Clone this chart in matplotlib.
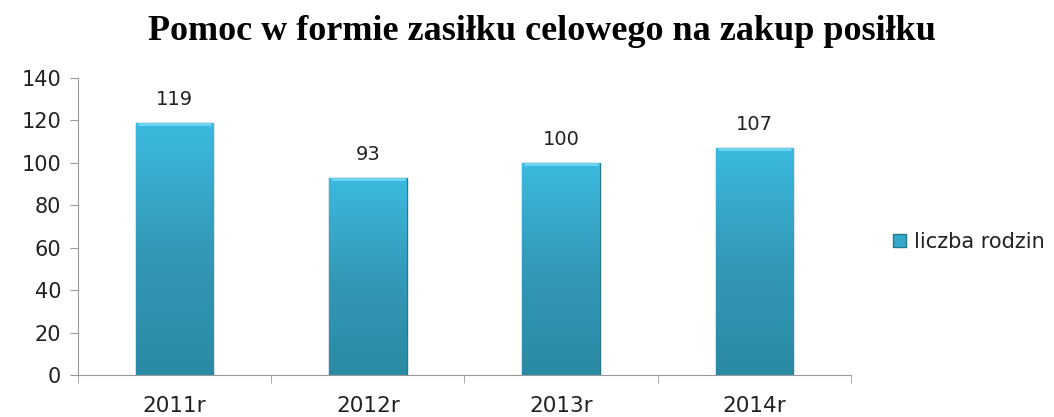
import matplotlib.pyplot as plt
import numpy as np
from matplotlib.colors import LinearSegmentedColormap
from matplotlib.patches import Patch

# dane
years = ['2011r', '2012r', '2013r', '2014r']
rodziny = [119, 93, 100, 107]

title = 'Pomoc w formie zasiłku celowego na zakup posiłku'

fig = plt.figure(figsize=(10.54, 4.17), dpi=100)
ax = fig.add_axes([0.074, 0.1007, 0.7334, 0.7123])

x = np.arange(len(years))
bars = ax.bar(x, rodziny, width=0.4, color='#35A9CB', edgecolor='#26768D', linewidth=1.0, zorder=2)

# gradient w słupkach
cmap = LinearSegmentedColormap.from_list('g', ['#2B8AA3', '#3399B8', '#3CBAE0'])
grad = np.linspace(0, 1, 256).reshape(-1, 1)
for b in bars:
    im = ax.imshow(grad, cmap=cmap, origin='lower', aspect='auto', zorder=3,
                   extent=[b.get_x(), b.get_x() + b.get_width(), 0, b.get_height()])
    im.set_clip_path(b)
    # jasna krawędź u góry
    ax.plot([b.get_x() + 0.01, b.get_x() + b.get_width() - 0.01], [b.get_height() - 0.6] * 2,
            color='#6FD6F2', lw=2, zorder=4, solid_capstyle='butt')
    ax.text(b.get_x() + b.get_width() / 2, b.get_height() + 6.5, str(int(b.get_height())),
            ha='center', va='bottom', fontsize=14, color='#222222')

ax.set_xlim(-0.5, len(years) - 0.5)
ax.set_ylim(0, 140)
ax.set_yticks(range(0, 141, 20))
ax.set_xticks(x)
ax.set_xticklabels(years)
ax.set_xticks(np.arange(-0.5, len(years)), minor=True)
ax.tick_params(axis='x', which='major', length=0, pad=15, labelsize=15.5, labelcolor='#222222')
ax.tick_params(axis='x', which='minor', length=6, color='#999999')
ax.tick_params(axis='y', length=6, color='#999999', labelsize=15, pad=6, labelcolor='#222222')

for s in ['top', 'right']:
    ax.spines[s].set_visible(False)
for s in ['left', 'bottom']:
    ax.spines[s].set_color('#999999')

fig.text(0.514, 0.903, title, ha='center', va='baseline', fontsize=26,
         fontweight='bold', family='Liberation Serif')

leg = fig.legend(handles=[Patch(facecolor='#35A9CB', edgecolor='#26768D', label='liczba rodzin')],
                 loc='center left', bbox_to_anchor=(0.829, 0.42), frameon=False,
                 fontsize=15, handlelength=0.65, handleheight=0.65, handletextpad=0.4,
                 labelcolor='#222222')

plt.savefig('out.png', dpi=100)
